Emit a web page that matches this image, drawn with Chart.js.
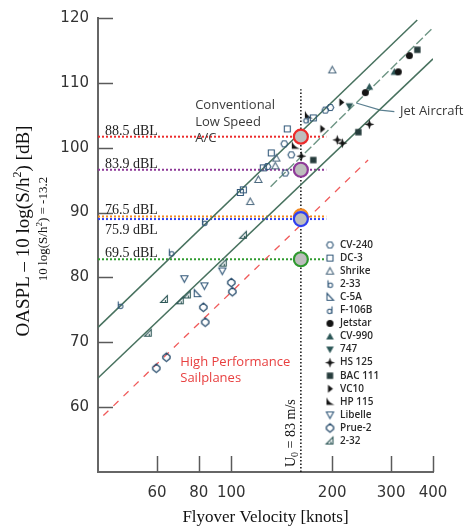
<!DOCTYPE html>
<html>
<head>
<meta charset="utf-8">
<script src="https://cdn.jsdelivr.net/npm/chart.js@4.4.1/dist/chart.umd.min.js"></script>
<style>
  html, body { margin: 0; padding: 0; background: #fff; }
</style>
</head>
<body>
<canvas id="c" width="471" height="532"></canvas>
<script>
// axis ticks
const xTicks = [60, 80, 100, 200, 300, 400];
const yTicks = [60, 70, 80, 90, 100, 110, 120];

// trend lines, [knots, dB]
const upperBand = [[40, 72.3], [359, 119.7]];
const lowerBand = [[40, 64.5], [400, 113.7]];
const jetLine = [[131, 94.0], [400, 118.5]];
const sailplaneLine = [[41.5, 58.7], [256, 98.1]];
const jetLeader = [[236, 106.9], [278.5, 105.8], [306.7, 105.55]];

// reference speed and detection levels
const u0Knots = 161.3;
const levelNames = ['88.5 dBL', '83.9 dBL', '76.5 dBL', '75.9 dBL', '69.5 dBL'];
const levelValues = [101.7, 96.6, 89.4, 89.0, 82.8];
const levelColors = ['#ec2b2b', '#8e3a98', '#f28a22', '#2f3ff0', '#2f9a2f'];
const levelLineEnd = 192;

// flyover measurements, [knots, dB]
const cv240 = [[128.1, 97.1], [143.9, 100.6], [151.0, 98.9], [144.9, 96.1], [190.8, 105.8], [197.5, 106.2]];
const dc3 = [[106.4, 93.1], [108.6, 93.5], [124.6, 96.9], [131.6, 99.2], [146.9, 102.9], [175.7, 104.6]];
const shrike = [[120.4, 95.1], [136.2, 98.4], [135.3, 97.2], [113.9, 91.7], [200.2, 112.0]];
const s233 = [[46.6, 75.7], [66.2, 83.8], [83.1, 88.5]];
const c5a = [[79.1, 77.5]];
const f106b = [[167.4, 104.3]];
const jetstar = [[251.2, 108.5], [315.1, 111.7], [339.9, 114.2]];
const cv990 = [[258.2, 109.4], [306.7, 111.7]];
const b747 = [[225.1, 106.4]];
const hs125 = [[161.8, 98.7], [207.2, 101.2], [214.5, 100.7], [258.2, 103.6]];
const bac111 = [[175.7, 98.1], [239.4, 102.4], [359.2, 115.1]];
const vc10 = [[186.9, 102.9], [213.0, 107.0]];
const hp115 = [[169.8, 105.0], [155.2, 100.3]];
const libelle = [[72.4, 79.8], [83.1, 78.7], [94.0, 81.0]];
const prue2 = [[82.5, 75.4], [83.6, 73.1], [64.0, 67.7], [59.7, 66.0], [100, 79.2], [100.7, 77.8]];
const s232 = [[56.5, 71.4], [63.1, 76.6], [70.4, 76.4], [73.9, 77.3], [94.6, 82.2], [108.6, 86.5]];

const OPEN = '#33597a';
const SOLID = '#141414';
const TEAL = '#2c5656';

/* small canvases used as point styles */
function glyph(draw) {
    const c = document.createElement('canvas');
    c.width = 13; c.height = 13;
    const g = c.getContext('2d');
    g.translate(6.5, 6.5);
    g.lineWidth = 1.1;
    g.strokeStyle = OPEN;
    g.fillStyle = SOLID;
    g.beginPath();
    draw(g);
    return c;
}

const hexagon = glyph(g => {
    for (let i = 0; i < 6; i++) { const a = Math.PI / 3 * i; g.lineTo(3.4 * Math.cos(a), 3.4 * Math.sin(a)); }
    g.closePath(); g.stroke();
});
const square = glyph(g => { g.rect(-3, -3, 6, 6); g.stroke(); });
const triangle = glyph(g => { g.strokeStyle = '#4d6a80'; g.moveTo(0, -3.6); g.lineTo(3.6, 3); g.lineTo(-3.6, 3); g.closePath(); g.stroke(); });
const stemRight = glyph(g => { g.moveTo(-2, -4); g.lineTo(-2, 3.2); g.stroke(); g.beginPath(); g.arc(0.4, 1, 2.2, 0, Math.PI * 2); g.stroke(); });
const cornerOpen = glyph(g => { g.moveTo(-3, -4); g.lineTo(-3, 3); g.lineTo(3.6, 3); g.closePath(); g.stroke(); });
const stemLeft = glyph(g => { g.moveTo(2, -4); g.lineTo(2, 3.2); g.stroke(); g.beginPath(); g.arc(-0.4, 1, 2.2, 0, Math.PI * 2); g.stroke(); });
const disc = glyph(g => { g.arc(0, 0, 3.5, 0, Math.PI * 2); g.fill(); });
const triUp = glyph(g => { g.fillStyle = TEAL; g.moveTo(0, -3.8); g.lineTo(3.8, 3); g.lineTo(-3.8, 3); g.closePath(); g.fill(); });
const triDown = glyph(g => { g.fillStyle = TEAL; g.moveTo(-3.8, -3); g.lineTo(3.8, -3); g.lineTo(0, 3.8); g.closePath(); g.fill(); });
const star4 = glyph(g => {
    const pts = [[0, -5], [1.3, -1.3], [5, 0], [1.3, 1.3], [0, 5], [-1.3, 1.3], [-5, 0], [-1.3, -1.3]];
    pts.forEach(p => g.lineTo(p[0], p[1])); g.closePath(); g.fill();
});
const block = glyph(g => { g.fillStyle = '#263c3c'; g.rect(-3.2, -3.2, 6.4, 6.4); g.fill(); });
const wedge = glyph(g => { g.moveTo(-2, -4); g.lineTo(3, 0); g.lineTo(-2, 4); g.closePath(); g.fill(); });
const cornerSolid = glyph(g => { g.moveTo(-3.5, -4.5); g.lineTo(-3.5, 3); g.lineTo(4.5, 3); g.quadraticCurveTo(-1, 1, -3.5, -4.5); g.fill(); });
const triOpenDown = glyph(g => { g.moveTo(-3.6, -3); g.lineTo(3.6, -3); g.lineTo(0, 3.6); g.closePath(); g.stroke(); });
const diamond = glyph(g => {
    g.lineWidth = 1.3; g.strokeStyle = '#24496a';
    [[0, -4.2], [3.6, -1.2], [3.6, 1.2], [0, 4.2], [-3.6, 1.2], [-3.6, -1.2]].forEach(p => g.lineTo(p[0], p[1]));
    g.closePath(); g.stroke();
});
const cornerRight = glyph(g => {
    g.strokeStyle = TEAL;
    g.moveTo(3, -4); g.lineTo(3, 3); g.lineTo(-3.8, 3); g.closePath(); g.stroke();
    g.beginPath(); g.moveTo(1, 0.5); g.lineTo(1, 3); g.stroke();
});

const fleet = [
    { name: 'CV-240', data: cv240, style: hexagon },
    { name: 'DC-3', data: dc3, style: square },
    { name: 'Shrike', data: shrike, style: triangle },
    { name: '2-33', data: s233, style: stemRight },
    { name: 'C-5A', data: c5a, style: cornerOpen },
    { name: 'F-106B', data: f106b, style: stemLeft },
    { name: 'Jetstar', data: jetstar, style: disc },
    { name: 'CV-990', data: cv990, style: triUp },
    { name: '747', data: b747, style: triDown },
    { name: 'HS 125', data: hs125, style: star4 },
    { name: 'BAC 111', data: bac111, style: block },
    { name: 'VC10', data: vc10, style: wedge },
    { name: 'HP 115', data: hp115, style: cornerSolid },
    { name: 'Libelle', data: libelle, style: triOpenDown },
    { name: 'Prue-2', data: prue2, style: diamond },
    { name: '2-32', data: s232, style: cornerRight }
];

const xy = pts => pts.map(p => ({ x: p[0], y: p[1] }));

function trend(pts, color, dash, width) {
    return { type: 'line', data: xy(pts), borderColor: color, borderWidth: width || 1.5,
             borderDash: dash || [], pointRadius: 0, fill: false, tension: 0, order: 3 };
}

const datasets = [
    trend(upperBand, '#48725f'),
    trend(lowerBand, '#48725f'),
    trend(jetLine, '#6d9584', [9, 3], 1.4),
    trend(sailplaneLine, '#f05a5a', [7, 7], 1.3),
    trend(jetLeader, '#5a7f90', [], 1.2),
    { type: 'line', data: [{ x: u0Knots, y: 50 }, { x: u0Knots, y: 109 }], borderColor: '#111',
      borderWidth: 1.5, borderDash: [1.5, 2], pointRadius: 0, order: 3 }
];

levelValues.forEach((v, i) => {
    datasets.push({ type: 'line', data: [{ x: 40, y: v }, { x: levelLineEnd, y: v }],
        borderColor: levelColors[i], borderWidth: 2, borderDash: [2, 2], pointRadius: 0, order: 3 });
});

fleet.forEach(f => {
    datasets.push({ type: 'scatter', label: f.name, data: xy(f.data), pointStyle: f.style,
        pointRadius: 4, order: 2 });
});

datasets.push({ type: 'scatter', data: levelValues.map(v => ({ x: u0Knots, y: v })),
    pointRadius: 7, pointBackgroundColor: '#bdbdbd', pointBorderColor: levelColors,
    pointBorderWidth: 2.2, order: 1 });

function rich(ctx, parts, x, y, rot, align) {
    ctx.save();
    ctx.translate(x, y);
    ctx.rotate(rot);
    ctx.textBaseline = 'alphabetic';
    ctx.textAlign = 'left';
    let total = 0;
    parts.forEach(p => { ctx.font = p.font; total += ctx.measureText(p.t).width; });
    let cx = align === 'center' ? -total / 2 : 0;
    parts.forEach(p => {
        ctx.font = p.font;
        ctx.fillText(p.t, cx, p.dy || 0);
        cx += ctx.measureText(p.t).width;
    });
    ctx.restore();
}

const annotate = {
    id: 'annotate',
    beforeDraw(chart) {
        const ctx = chart.ctx;
        ctx.save(); ctx.fillStyle = '#fff'; ctx.fillRect(0, 0, chart.width, chart.height); ctx.restore();
    },
    afterDraw(chart) {
        const ctx = chart.ctx, a = chart.chartArea;
        const xs = chart.scales.x, ys = chart.scales.y;
        ctx.save();

        // inward tick marks
        ctx.strokeStyle = '#5a5a5a'; ctx.lineWidth = 1.5;
        xTicks.forEach(v => {
            const px = Math.round(xs.getPixelForValue(v)) + 0.5;
            ctx.beginPath(); ctx.moveTo(px, a.bottom); ctx.lineTo(px, a.bottom - 16); ctx.stroke();
        });
        yTicks.forEach(v => {
            const py = Math.round(ys.getPixelForValue(v)) + 0.5;
            ctx.beginPath(); ctx.moveTo(a.left, py); ctx.lineTo(a.left + 15, py); ctx.stroke();
        });

        // level labels
        ctx.fillStyle = '#1e1e1e';
        ctx.font = '14px "Liberation Serif"';
        ctx.textBaseline = 'alphabetic';
        levelNames.forEach((t, i) => {
            const py = ys.getPixelForValue(levelValues[i]);
            ctx.fillText(t, a.left + 7, i === 3 ? py + 14.5 : py - 2);
        });

        // U0 note beside the vertical line
        ctx.fillStyle = '#111';
        rich(ctx, [
            { t: 'U', font: '14px "Liberation Serif"' },
            { t: '0', font: '10px "Liberation Serif"', dy: 3 },
            { t: ' = 83 m/s', font: '14px "Liberation Serif"' }
        ], xs.getPixelForValue(u0Knots) - 6, a.bottom - 5, -Math.PI / 2, 'left');

        // region notes
        ctx.font = '13px "Open Sans"';
        ctx.fillStyle = '#3a3a3a';
        ctx.textBaseline = 'middle';
        const cx = xs.getPixelForValue(78), cy = ys.getPixelForValue(106.5);
        ['Conventional', 'Low Speed', 'A/C'].forEach((t, i) => ctx.fillText(t, cx, cy + i * 16.5));
        ctx.fillText('Jet Aircraft', xs.getPixelForValue(319), ys.getPixelForValue(105.6));
        ctx.fillStyle = '#e84040';
        const sx = xs.getPixelForValue(70.4), sy = ys.getPixelForValue(66.9);
        ctx.fillText('High Performance', sx, sy);
        ctx.fillText('Sailplanes', sx, sy + 16);

        // legend
        ctx.font = '600 10px "Open Sans"';
        ctx.fillStyle = '#2a2a2a';
        const lx = a.right - 103, ly = a.top + 227;
        fleet.forEach((f, i) => {
            const y = ly + i * 13.07;
            ctx.drawImage(f.style, lx - 6.5, y - 6.5);
            ctx.fillText(f.name, lx + 10, y);
        });

        // axis titles
        ctx.fillStyle = '#111';
        rich(ctx, [
            { t: 'OASPL \u2013 10 log(S/h', font: '19px "Liberation Serif"' },
            { t: '2', font: '12px "Liberation Serif"', dy: -8 },
            { t: ') [dB]', font: '19px "Liberation Serif"' }
        ], 29, 231, -Math.PI / 2, 'center');
        rich(ctx, [
            { t: '10 log(S/h', font: '13px "Liberation Serif"' },
            { t: '2', font: '9px "Liberation Serif"', dy: -5 },
            { t: ') = -13.2', font: '13px "Liberation Serif"' }
        ], 47, 229, -Math.PI / 2, 'center');
        ctx.font = '17px "Liberation Serif"';
        ctx.textAlign = 'center';
        ctx.textBaseline = 'alphabetic';
        ctx.fillText('Flyover Velocity [knots]', (a.left + a.right) / 2, 522);
        ctx.restore();
    }
};

const tickFont = { family: 'DejaVu Sans', size: 15 };

new Chart(document.getElementById('c'), {
    type: 'scatter',
    data: { datasets },
    options: {
        responsive: false,
        animation: false,
        devicePixelRatio: 1,
        layout: { padding: { top: 14, right: 38, left: 0, bottom: 0 } },
        plugins: { legend: { display: false }, tooltip: { enabled: false } },
        scales: {
            x: {
                type: 'logarithmic', min: 40, max: 400,
                grid: { display: false, drawTicks: false },
                border: { display: true, color: '#666', width: 2 },
                ticks: { font: tickFont, color: '#333', padding: 12, maxRotation: 0, autoSkip: false,
                         callback: v => String(v) },
                afterBuildTicks: s => { s.ticks = xTicks.map(v => ({ value: v })); },
                afterFit: s => { s.height = 60; }
            },
            y: {
                min: 50, max: 120,
                grid: { display: false, drawTicks: false },
                border: { display: true, color: '#666', width: 2 },
                ticks: { font: tickFont, color: '#333', padding: 9, callback: v => String(v) },
                afterBuildTicks: s => { s.ticks = yTicks.map(v => ({ value: v })); },
                afterFit: s => { s.width = 98; }
            }
        }
    },
    plugins: [annotate]
});
</script>
</body>
</html>
